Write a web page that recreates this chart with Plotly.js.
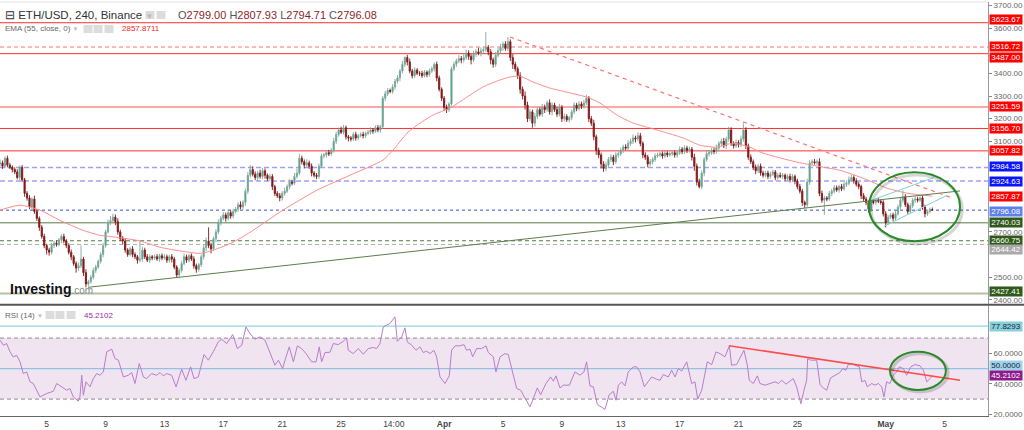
<!DOCTYPE html>
<html><head><meta charset="utf-8">
<script src="https://cdn.plot.ly/plotly-3.0.1.min.js"></script>
<style>html,body{margin:0;padding:0;background:#fff;overflow:hidden}#chart{width:1024px;height:430px}</style>
</head><body><div id="chart"></div>
<script>
// ---------------- DATA ----------------
// 4-hour candles, x measured in days since 1 Mar 00:00
const firstCandleDay = 5 / 6;          // first visible candle: 1 Mar 20:00
const candleStepDays = 4 / 24;         // 240-minute candles
const firstOpen = 3000;
const closes = [
  3005,2990,3025,2995,2985,2975,2965,2940,2985,2930,2870,
  2850,2810,2845,2790,2760,2720,2680,2640,2620,2610,2640,
  2650,2645,2665,2680,2660,2640,2610,2590,2560,2540,2550,2580,
  2520,2470,2480,2500,2530,2545,2570,2600,2640,2700,2740,2750,2765,2745,
  2700,2670,2660,2620,2600,2625,2600,2590,2575,2580,2620,2590,2575,2590,2585,
  2590,2580,2595,2585,2590,2575,2590,2580,2545,2510,2530,2560,2590,2575,2595,2580,2550,2535,2555,
  2590,2630,2660,2640,2625,2670,2700,2740,2760,2775,2760,2785,2770,2790,2800,2820,2810,2830,2880,2950,2975,
  2955,2940,2960,2945,2970,2950,2935,2945,2900,2870,2860,2850,2870,2880,2900,2920,2915,2945,2960,
  3025,3010,2995,3005,2990,2960,2950,2945,2990,3035,3040,3050,3045,3060,3100,3130,3150,3140,3160,3120,3115,
  3110,3130,3115,3125,3130,3125,3135,3140,3150,3145,3160,3150,3165,3290,3310,3325,3320,3340,
  3365,3380,3410,3440,3470,3450,3410,3390,3415,3400,3400,3390,3405,3395,3410,3420,3440,3380,3330,3290,3250,3240,3265,3420,
  3440,3455,3465,3460,3470,3490,3475,3460,3485,3495,3490,3500,3505,3515,3495,3460,3440,3480,3500,3515,3530,3510,3540,
  3470,3440,3420,3390,3330,3300,3260,3200,3230,3180,3210,3240,3220,3250,3240,3270,3230,3260,3240,3220,3250,3200,3210,3195,3205,
  3230,3260,3245,3265,3255,3270,3290,3200,3180,3120,3060,3040,3000,2980,2995,3020,3030,3010,3040,3045,
  3060,3075,3070,3090,3100,3115,3110,3125,3090,3040,3030,3000,3010,3020,3035,3040,3045,3035,3048,3040,3045,3050,3040,
  3050,3065,3055,3070,3060,3065,3030,2990,2920,2900,2960,3020,3045,3050,3060,3055,3070,3090,3100,3080,3110,3150,3090,3080,3095,3085,3110,3150,3080,3030,
  3010,2985,2970,2990,2960,2950,2960,2945,2955,2965,2940,2950,2945,2950,2935,2945,2930,2945,2925,2900,2880,2830,2820,2920,3005,3010,3005,3010,2870,
  2840,2850,2845,2870,2880,2895,2885,2900,2890,2910,2915,2930,2940,2925,2910,2900,2860,2845,2830,2800,2835,2830,2840,2835,2830,
  2780,2740,2765,2775,2760,2780,2810,2840,2855,2820,2790,2815,2840,2845,2840,2850,2810,2780,2790,2799,2796.08
];
// upper / lower wick lengths (USD) above max(open,close) and below min(open,close)
const wickUp = [
  15,10,8,12,10,8,10,12,8,10,8,
  10,12,8,15,10,8,10,12,8,10,12,
  10,12,8,10,12,8,10,12,8,10,15,60,
  10,15,8,10,12,10,8,10,12,10,15,20,15,12,
  15,10,12,10,8,10,12,10,8,80,15,10,12,10,8,
  10,12,8,10,12,10,8,12,10,8,10,12,15,10,8,10,12,10,8,
  10,12,15,60,12,10,12,15,10,12,10,15,10,12,10,12,15,10,12,15,20,
  15,12,10,15,12,10,8,12,10,8,10,12,10,15,10,12,10,15,20,
  20,12,10,15,10,12,8,10,12,10,8,10,12,10,15,12,10,15,12,10,8,
  8,10,12,8,10,12,8,10,12,8,10,12,8,10,12,10,8,12,
  10,12,10,15,5,12,15,10,12,8,10,12,10,8,12,10,8,12,10,8,10,12,8,10,
  12,10,15,12,20,15,12,10,15,12,18,15,12,68,10,12,10,15,12,15,10,12,20,
  10,15,12,10,15,12,20,15,12,10,15,12,10,15,12,10,15,12,10,12,15,10,12,10,8,
  10,12,10,12,10,12,15,10,12,15,10,12,10,12,15,10,12,10,12,10,
  12,10,12,15,12,15,10,15,12,10,12,10,12,10,12,10,8,10,12,8,10,8,10,
  10,12,10,12,10,12,10,15,12,15,12,10,15,12,10,12,15,10,12,15,10,15,12,10,12,10,15,30,12,10,
  12,10,12,10,12,10,8,10,12,10,8,10,12,10,8,10,12,10,8,10,12,10,8,15,12,10,12,10,15,
  12,10,8,12,10,12,10,8,12,10,12,15,12,10,12,10,8,12,10,8,12,10,8,10,8,
  10,12,10,8,10,12,10,12,28,12,10,12,10,12,10,8,12,10,8,8,8.93
];
const wickDn = [
  10,12,8,10,8,12,10,8,12,10,15,
  12,10,15,10,12,15,10,12,20,15,10,
  12,10,8,15,10,12,10,15,10,20,12,10,
  15,15,10,8,10,12,8,10,12,10,8,10,12,15,
  12,10,15,12,10,8,12,10,15,10,12,10,8,12,10,
  10,8,12,10,8,12,10,15,10,12,15,10,8,12,10,8,12,15,10,
  10,12,15,12,20,10,15,10,12,10,15,10,12,10,8,12,10,12,15,12,10,
  10,12,15,10,12,15,10,12,15,12,10,15,12,10,8,12,10,8,10,
  10,12,15,10,12,15,10,12,10,8,10,12,10,8,10,12,10,8,10,12,15,
  10,8,12,10,8,12,10,8,10,12,8,10,12,8,12,10,8,10,
  12,10,15,10,12,15,10,12,10,8,12,10,8,12,10,8,12,15,10,12,16,15,10,8,
  10,12,10,15,12,10,15,20,10,12,10,15,12,10,15,20,15,12,10,12,15,10,12,
  15,20,12,15,20,15,20,15,12,20,15,12,10,12,15,10,12,15,10,12,10,15,12,10,12,
  12,10,12,10,12,10,10,15,12,15,20,15,20,15,12,10,12,15,10,12,
  10,12,10,12,10,12,15,10,12,15,12,15,10,12,10,8,10,12,8,10,8,10,12,
  12,10,12,10,12,10,15,20,15,8,12,15,10,12,10,12,10,15,12,10,15,12,10,12,10,12,10,12,15,12,
  10,12,15,10,12,10,8,12,10,8,12,10,8,12,10,8,12,10,15,12,10,15,15,10,12,10,8,10,12,
  12,65,10,8,12,10,8,12,10,8,12,10,8,12,10,12,15,10,12,15,10,8,10,8,10,
  12,20,10,8,12,10,8,10,12,10,12,8,10,12,10,8,12,16,10,8,1.37
];
// EMA(55) traced points
const emaDays = [0.83,2.19,3.55,4.9,6.47,7.62,8.78,10.34,11.7,13.26,14.42,15.3,16.66,17.81,20.05,22.36,24.6,26.85,27.53,28.48,29.16,30.24,31.4,32.55,33.64,34.8,35.48,36.15,37.04,38.19,39.35,40.7,41.59,42.74,43.83,44.99,46.14,47.23,48.38,49.54,50.62,51.78,52.66,54.97,56.74,57.89,59.46,61.09,62.44,64.17];
const emaVals = [2796,2818,2796,2751,2707,2685,2676,2660,2632,2614,2605,2619,2654,2698,2796,2884,2950,3017,3061,3136,3171,3216,3247,3295,3340,3371,3384,3388,3362,3335,3317,3295,3269,3216,3181,3159,3137,3115,3083,3074,3092,3074,3048,3008,2986,2972,2937,2893,2871,2857.87];
// RSI(14) traced points
const rsiDays = [0.83,1.06,1.28,1.51,1.73,1.96,2.19,2.41,2.64,2.87,3.09,3.32,3.55,4.0,4.45,4.68,5.02,5.36,5.58,5.81,6.15,6.26,6.38,6.49,6.67,6.94,7.17,7.40,7.62,7.85,8.08,8.42,8.64,8.87,9.21,9.55,9.77,10.0,10.29,10.57,10.79,11.13,11.47,11.70,11.92,12.15,12.49,12.79,13.17,13.46,13.78,14.01,14.30,14.53,14.69,14.98,15.32,15.66,15.89,16.23,16.64,16.95,17.25,17.54,17.81,18.15,18.49,18.83,19.17,19.51,19.74,20.03,20.19,20.48,20.76,21.03,21.32,21.62,22.0,22.30,22.52,22.68,22.91,23.25,
  23.47,23.81,24.15,24.38,24.49,24.83,25.17,25.51,25.85,26.19,26.42,26.64,26.87,27.32,27.66,27.82,28.12,28.34,28.50,28.80,29.09,29.36,29.59,29.81,30.04,30.31,30.49,30.72,31.06,31.35,31.51,31.74,32.08,32.35,32.53,32.76,32.94,33.21,33.55,33.85,34.0,34.34,34.52,34.80,35.14,35.36,35.59,35.93,36.20,36.49,36.83,37.06,37.33,37.56,37.92,38.24,38.42,38.60,38.87,39.10,39.51,39.89,40.23,40.50,40.68,40.91,41.14,41.41,41.70,41.93,42.22,42.50,42.68,42.84,43.06,43.29,43.51,43.85,44.08,44.31,44.60,44.87,45.10,45.44,45.67,
  45.89,46.23,46.46,46.69,46.91,47.14,47.48,47.82,48.04,48.23,48.50,48.72,48.88,49.18,49.47,49.74,50.08,50.38,50.53,50.87,51.17,51.37,51.60,51.73,52.01,52.28,52.46,52.80,53.14,53.48,53.71,53.93,54.23,54.54,54.72,54.95,55.13,55.24,55.45,55.63,55.70,55.90,56.31,56.54,56.76,56.99,57.26,57.55,57.89,58.08,58.30,58.46,58.69,58.91,59.21,59.37,59.59,59.75,60.05,60.27,60.50,60.73,60.88,61.06,61.29,61.52,61.74,61.92,62.20,62.42,62.70,62.99,63.33,63.56,63.79,64.01,64.17];
const rsiVals = [68.6,65.3,66.4,61,57.6,58.7,54.4,46.7,47.8,41.3,40.2,35.8,31.4,33.6,35.1,40.2,38,35.8,36.9,31.4,28.6,31.4,45.6,32.5,41.3,38,43.4,46.7,45.6,47.8,61,62.7,56.6,55.5,44.5,45.6,47.4,40.2,53.3,44.5,43.4,46.7,45.6,47.4,45.2,46.7,45.6,38,49.6,42.3,51.1,43.4,44.5,52.2,59.2,55.5,61,67.5,69.2,66.4,72.3,63.1,65.3,77.3,73,69.2,70.8,68.6,61,52.2,55.5,50,55.5,64.2,54.4,64.9,63.1,59.8,54.4,54.4,64.2,54.4,60.5,60.7,
  66.4,65.7,67.9,70.1,62,59.8,63.1,59.4,63.1,63.8,63.1,66.4,77.3,79.5,83.9,67.9,70.8,76.7,67.5,65.3,62,64.2,60.5,61.4,59.8,62,57.7,44.5,40.2,45.2,62,64.9,64.9,65.7,62,62.7,57.7,63.1,63.1,64.9,60.5,57.7,47.8,57.7,59.8,59.2,50,36.9,35.8,30.3,24.9,30.3,37.3,32.9,40.2,44.5,41.7,45.2,37.3,39.1,39.1,47.8,45.6,47.8,54.4,38.6,38,26.4,24.9,23.3,32.9,35.1,29.2,39.1,41.3,38.6,47.8,51.1,51.1,47.8,38,41.3,44.5,43,42.3,
  46.1,44.5,48.9,44.5,50,48.3,54.4,40.2,41.3,29.9,35.8,47.8,54.4,52.6,60.9,59.8,57.7,64.9,52.2,52.6,57.7,62,52.2,42.3,40.2,45.2,40.2,39.1,40.2,41.3,40.2,42.3,39.8,42.3,43.4,38,31.4,27,35.8,42.3,56.6,55.5,55.5,39.5,37.3,35.8,43.9,45.6,47.4,50,48.9,52.6,53.3,52.2,51.1,41.3,42.3,38,40.2,39.1,40.2,38,31.4,41.3,40.2,45.6,47.8,51.1,50,45.6,51.1,52.6,51.8,48.9,41.3,43.4,45.21];
// horizontal price levels
const levelPrices = [3623.67,3516.72,3487.00,3251.59,3156.70,3057.82,2984.58,2924.63,2796.08,2740.03,2660.75,2644.42,2427.41];
const levelLabels = ['3623.67','3516.72','3487.00','3251.59','3156.70','3057.82','2984.58','2924.63','2796.08','2740.03','2660.75','2644.42','2427.41'];
const emaLast = 2857.87, emaLastText = '2857.87';
// price-axis tick labels left visible (others are hidden behind level labels)
const priceTicks = [2400,2500,2700,3100,3200,3300,3400,3600,3700];
const rsiTicks = [20,40,60];
// x-axis ticks
const tickDays = [4,8,12,16,20,24,27.58,31,35,39,43,47,51,55,61,65];
const tickLabels = ['5','9','13','17','21','25','14:00','<b>Apr</b>','5','9','13','17','21','25','<b>May</b>','5'];
// trend lines [day, price]
const supportLine = [[6.81,2455.2],[66.05,2880.9]];
const resistLine = [[35.48,3560.4],[65.37,2853.1]];
const chanUpper = [[60.05,2839.8],[64.28,2940.2]];
const chanLower = [[60.88,2724.9],[65.09,2858.8]];
const ellipsePrice = {d0:59.86,d1:66.05,p0:2658.6,p1:2963.6};
const rsiTrend = [[50.35,65.0],[66.05,42.3]];
const ellipseRsi = {d0:61.29,d1:65.09,r0:35.95,r1:61.05};
const rsiLevels = {upper:70, lower:30, mid:50, mark:77.8293};

// ---------------- BUILD ----------------
const n = Math.min(closes.length, wickUp.length, wickDn.length);
const xs=[],op=[],hi=[],lo=[],cl=[];
for (let k=0;k<n;k++){
  const o = k===0 ? firstOpen : closes[k-1];
  const c = closes[k];
  xs.push(firstCandleDay + k*candleStepDays);
  op.push(o); cl.push(c);
  hi.push(Math.max(o,c)+wickUp[k]);
  lo.push(Math.min(o,c)-wickDn[k]);
}
const PL=0, PR=988, PT=2, PB=416;
const pxX = x => (x-PL)/(PR-PL);
const pxY = y => (PB-y)/(PB-PT);
const FONT = 'Liberation Sans, Arial, sans-serif';

const traces = [
  {type:'candlestick', x:xs, open:op, high:hi, low:lo, close:cl, xaxis:'x', yaxis:'y',
   increasing:{line:{color:'#7fa898',width:0.9}, fillcolor:'#1e9f8a'},
   decreasing:{line:{color:'#7a1a1a',width:0.9}, fillcolor:'#a00d0d'},
   whiskerwidth:0, hoverinfo:'skip', showlegend:false},
  {type:'scatter', mode:'lines', x:emaDays, y:emaVals, xaxis:'x', yaxis:'y',
   line:{color:'#ff8c8c', width:1, shape:'spline', smoothing:0.6}, hoverinfo:'skip', showlegend:false},
  {type:'scatter', mode:'lines', x:rsiDays, y:rsiVals, xaxis:'x', yaxis:'y2',
   line:{color:'#b87ccb', width:1}, hoverinfo:'skip', showlegend:false}
];

const levelStyle = [
  {c:'#ff3030',w:1,d:'solid',bg:'#ff0000',s:3},
  {c:'#ffa0a0',w:1.6,d:'4px,3px',bg:'#ff0000',s:0},
  {c:'#ff3030',w:1,d:'solid',bg:'#ff0000',s:-4},
  {c:'#ffa6a6',w:2,d:'solid',bg:'#ff0000',s:0},
  {c:'#ff3030',w:1,d:'solid',bg:'#ff0000',s:0},
  {c:'#ff3030',w:1,d:'solid',bg:'#ff0000',s:0},
  {c:'#a0a0ff',w:1.6,d:'5px,3px',bg:'#0a14ff',s:1},
  {c:'#a0a0ff',w:1.6,d:'5px,3px',bg:'#0a14ff',s:0},
  {c:'#3050d0',w:1,d:'dot',bg:'#5d80ee',s:-1},
  {c:'#5b7a4a',w:1,d:'solid',bg:'#2f5a1c',s:0},
  {c:'#4e7a3c',w:1,d:'4px,3px',bg:'#2f5a1c',s:0},
  {c:'#b0b0b0',w:1,d:'4px,3px',bg:'#a9a9a9',s:-5},
  {c:'#b3c2a6',w:2,d:'solid',bg:'#2f5a1c',s:2}
];

const shapes = [];
// RSI band
shapes.push({type:'rect',xref:'paper',yref:'y2',x0:0,x1:1,y0:rsiLevels.lower,y1:rsiLevels.upper,fillcolor:'#f0e4f1',line:{width:0},layer:'below'});
shapes.push({type:'line',xref:'paper',yref:'y2',x0:0,x1:1,y0:rsiLevels.upper,y1:rsiLevels.upper,line:{color:'#a79ea6',width:1.2,dash:'4px,3px'},layer:'below'});
shapes.push({type:'line',xref:'paper',yref:'y2',x0:0,x1:1,y0:rsiLevels.lower,y1:rsiLevels.lower,line:{color:'#a79ea6',width:1.2,dash:'4px,3px'},layer:'below'});
shapes.push({type:'line',xref:'paper',yref:'y2',x0:0,x1:1,y0:rsiLevels.mark,y1:rsiLevels.mark,line:{color:'#93d4de',width:1.2},layer:'below'});
shapes.push({type:'line',xref:'paper',yref:'y2',x0:0,x1:1,y0:rsiLevels.mid,y1:rsiLevels.mid,line:{color:'#92c2e2',width:1.2},layer:'below'});
// price levels
levelPrices.forEach((p,k)=>{
  const s=levelStyle[k];
  shapes.push({type:'line',xref:'paper',yref:'y',x0:0,x1:1,y0:p,y1:p,line:{color:s.c,width:s.w,dash:s.d},layer:'below'});
});
// trend lines
const seg=(pts,yref,color,w,dash)=>({type:'line',xref:'x',yref:yref,x0:pts[0][0],y0:pts[0][1],x1:pts[1][0],y1:pts[1][1],line:{color:color,width:w,dash:dash||'solid'}});
shapes.push(seg(supportLine,'y','#5e7d4c',1));
shapes.push(seg(resistLine,'y','#ff7070',1.2,'4px,4px'));
shapes.push(seg(chanUpper,'y','#7fd0d6',1));
shapes.push(seg(chanLower,'y','#7fd0d6',1));
shapes.push(seg(rsiTrend,'y2','#ff4a4a',1.5));
// ellipses with soft shadow
shapes.push({type:'circle',xref:'x',yref:'y',x0:ellipsePrice.d0+0.15,x1:ellipsePrice.d1+0.15,y0:ellipsePrice.p0-12,y1:ellipsePrice.p1-12,line:{color:'rgba(0,0,0,0.16)',width:3}});
shapes.push({type:'circle',xref:'x',yref:'y',x0:ellipsePrice.d0,x1:ellipsePrice.d1,y0:ellipsePrice.p0,y1:ellipsePrice.p1,line:{color:'#2a8a2a',width:2}});
shapes.push({type:'circle',xref:'x',yref:'y2',x0:ellipseRsi.d0+0.15,x1:ellipseRsi.d1+0.15,y0:ellipseRsi.r0-1.3,y1:ellipseRsi.r1-1.3,line:{color:'rgba(0,0,0,0.16)',width:3}});
shapes.push({type:'circle',xref:'x',yref:'y2',x0:ellipseRsi.d0,x1:ellipseRsi.d1,y0:ellipseRsi.r0,y1:ellipseRsi.r1,line:{color:'#2a8a2a',width:2}});
// panel separator and top border
shapes.push({type:'line',xref:'paper',yref:'paper',x0:0,x1:1024/988,y0:pxY(304.8),y1:pxY(304.8),line:{color:'#555',width:2}});
shapes.push({type:'line',xref:'paper',yref:'paper',x0:0,x1:1,y0:1,y1:1,line:{color:'#e2e2e2',width:1}});
// small icon squares in legends
[[150,15],[161,15],[88,29],[98,29],[109,29],[50,315],[60,315],[71,315]].forEach(([cx,cy])=>{
  shapes.push({type:'rect',xref:'paper',yref:'paper',x0:pxX(cx-4.5),x1:pxX(cx+4.5),y0:pxY(cy+4),y1:pxY(cy-4),fillcolor:'#dcdcdc',line:{width:0}});
});

const ann = [];
const box=(yv,yref,text,bg,fc,shift)=>({xref:'paper',yref:yref,x:1,y:yv,xanchor:'left',yanchor:'middle',xshift:1,yshift:shift||0,showarrow:false,
  text:text,bgcolor:bg,borderpad:0,width:32,height:8.5,align:'center',valign:'middle',font:{family:FONT,size:8,color:fc||'#fff'}});
levelPrices.forEach((p,k)=>ann.push(box(p,'y',levelLabels[k],levelStyle[k].bg,'#fff',levelStyle[k].s)));
ann.push(box(emaLast,'y',emaLastText,'#ff0000'));
ann.push(box(rsiLevels.mark,'y2','77.8293','#86d0dc','#223'));
ann.push(box(rsiLevels.mid,'y2','50.0000','#9fd3ec','#223',3.5));
ann.push(box(rsiVals[rsiVals.length-1],'y2','45.2102','#8c1a8c','#fff'));
const txt=(x,y,text,size,color,extra)=>Object.assign({xref:'paper',yref:'paper',x:pxX(x),y:pxY(y),xanchor:'left',yanchor:'middle',showarrow:false,text:text,font:{family:FONT,size:size,color:color}},extra||{});
ann.push(txt(3,15,'⊟ ETH/USD, 240, Binance <span style="color:#bbb;font-size:8px">▼</span>',11.5,'#333'));
const dr='#8e1f1f';
ann.push(txt(176,15,'O<span style="color:'+dr+'">2799.00</span> H<span style="color:'+dr+'">2807.93</span> L<span style="color:'+dr+'">2794.71</span> C<span style="color:'+dr+'">2796.08</span>',11,'#555'));
ann.push(txt(3,29,'EMA (55, close, 0) <span style="color:#bbb;font-size:6px">▼</span>',8,'#666'));
ann.push(txt(120,29,'2857.8711',8,'#ff1a1a'));
ann.push(txt(3,315,'RSI (14) <span style="color:#bbb;font-size:6px">▼</span>',8,'#666'));
ann.push(txt(82,315,'45.2102',8,'#9a2aa0'));
ann.push(txt(8,289,'<b>Investing</b><span style="color:#888;font-size:10px">.com</span>',14,'#111'));

const layout = {
  width:1024, height:430, margin:{l:PL,r:1024-PR,t:PT,b:430-PB},
  paper_bgcolor:'#fff', plot_bgcolor:'#fff', showlegend:false, dragmode:false,
  font:{family:FONT,size:8,color:'#555'},
  xaxis:{range:[0.829,67.95], anchor:'y2', rangeslider:{visible:false}, showgrid:false, zeroline:false,
    tickmode:'array', tickvals:tickDays, ticktext:tickLabels, ticks:'', tickfont:{family:FONT,size:8.5,color:'#444'},
    showline:true, linecolor:'#666', linewidth:1, automargin:false},
  yaxis:{domain:[pxY(304.8),1], range:[2378,3715.2], side:'right', showgrid:false, zeroline:false,
    tickmode:'array', tickvals:priceTicks, tickformat:'.2f', ticks:'outside', ticklen:3, tickcolor:'#888',
    tickfont:{family:FONT,size:8,color:'#666'}, showline:true, linecolor:'#999', automargin:false},
  yaxis2:{domain:[0,pxY(305.5)], range:[18.89,91.34], side:'right', showgrid:false, zeroline:false,
    tickmode:'array', tickvals:rsiTicks, tickformat:'.4f', ticks:'outside', ticklen:3, tickcolor:'#888',
    tickfont:{family:FONT,size:8,color:'#666'}, showline:true, linecolor:'#999', automargin:false},
  shapes:shapes, annotations:ann
};
Plotly.newPlot('chart', traces, layout, {staticPlot:true, displayModeBar:false});
</script></body></html>
